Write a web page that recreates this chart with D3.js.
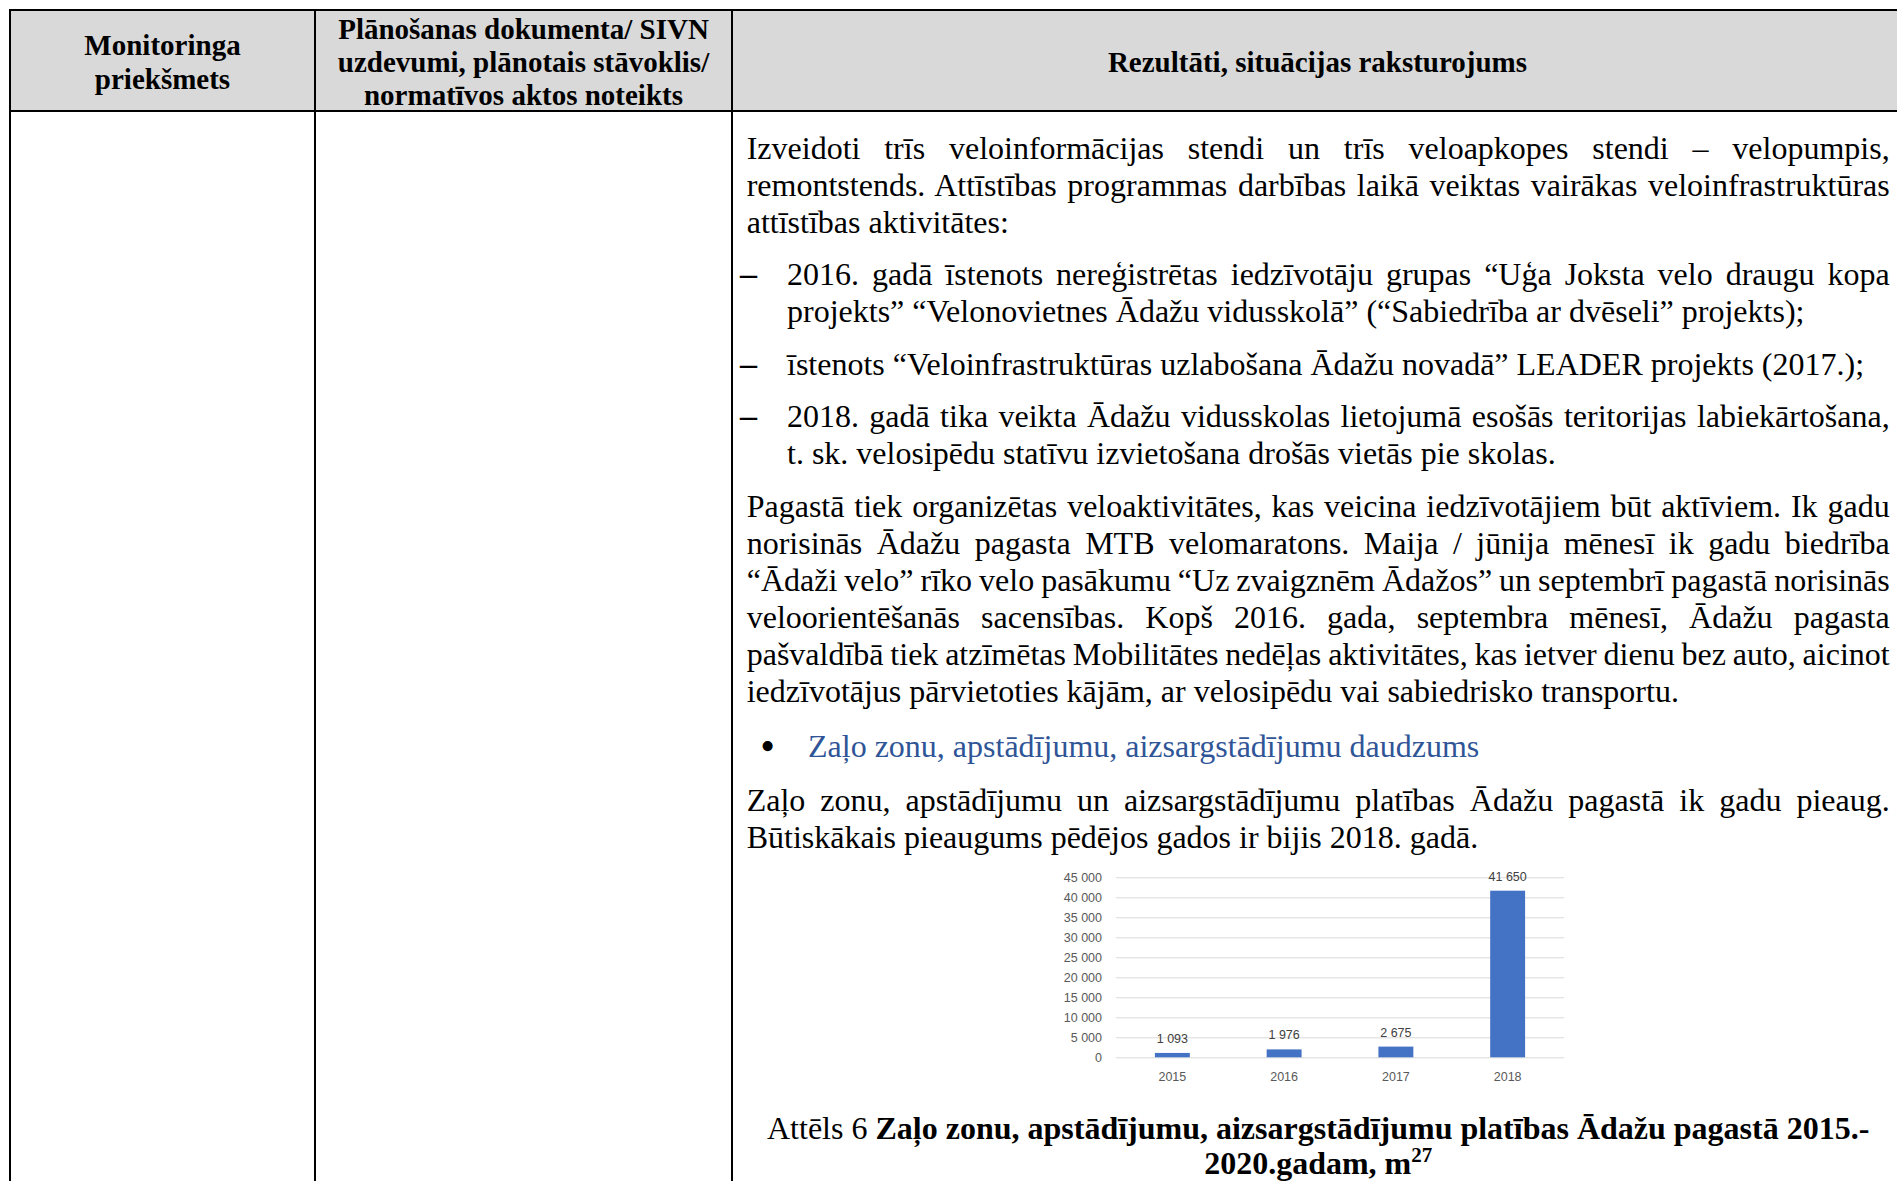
<!DOCTYPE html>
<html>
<head>
<meta charset="utf-8">
<script src="https://cdn.jsdelivr.net/npm/d3@7/dist/d3.min.js"></script>
<style>
  body { margin: 0; background: #fff; }
  svg { display: block; }
</style>
</head>
<body>
<div id="page"></div>
<script>
// chart data: green zone areas, m2
const years = ['2015', '2016', '2017', '2018'];
const areas = [1093, 1976, 2675, 41650];
const yTicks = [0, 5000, 10000, 15000, 20000, 25000, 30000, 35000, 40000, 45000];

// table header texts
const headCol1 = ['Monitoringa', 'priekšmets'];
const headCol2 = ['Plānošanas dokumenta/ SIVN', 'uzdevumi, plānotais stāvoklis/', 'normatīvos aktos noteikts'];
const headCol3 = ['Rezultāti, situācijas raksturojums'];

// body texts, one entry per printed line
const para1 = [
  'Izveidoti trīs veloinformācijas stendi un trīs veloapkopes stendi – velopumpis,',
  'remontstends. Attīstības programmas darbības laikā veiktas vairākas veloinfrastruktūras',
  'attīstības aktivitātes:'
];
const dash1 = [
  '2016. gadā īstenots nereģistrētas iedzīvotāju grupas “Uģa Joksta velo draugu kopa',
  'projekts” “Velonovietnes Ādažu vidusskolā” (“Sabiedrība ar dvēseli” projekts);'
];
const dash2 = ['īstenots “Veloinfrastruktūras uzlabošana Ādažu novadā” LEADER projekts (2017.);'];
const dash3 = [
  '2018. gadā tika veikta Ādažu vidusskolas lietojumā esošās teritorijas labiekārtošana,',
  't. sk. velosipēdu statīvu izvietošana drošās vietās pie skolas.'
];
const para2 = [
  'Pagastā tiek organizētas veloaktivitātes, kas veicina iedzīvotājiem būt aktīviem. Ik gadu',
  'norisinās Ādažu pagasta MTB velomaratons. Maija / jūnija mēnesī ik gadu biedrība',
  '“Ādaži velo” rīko velo pasākumu “Uz zvaigznēm Ādažos” un septembrī pagastā norisinās',
  'veloorientēšanās sacensības. Kopš 2016. gada, septembra mēnesī, Ādažu pagasta',
  'pašvaldībā tiek atzīmētas Mobilitātes nedēļas aktivitātes, kas ietver dienu bez auto, aicinot',
  'iedzīvotājus pārvietoties kājām, ar velosipēdu vai sabiedrisko transportu.'
];
const bullet1 = ['Zaļo zonu, apstādījumu, aizsargstādījumu daudzums'];
const para3 = [
  'Zaļo zonu, apstādījumu un aizsargstādījumu platības Ādažu pagastā ik gadu pieaug.',
  'Būtiskākais pieaugums pēdējos gados ir bijis 2018. gadā.'
];

const W = 1897, H = 1181;
const serif = '"Liberation Serif", "Times New Roman", serif';
const sans = '"Liberation Sans", Arial, sans-serif';

const colX = [10, 315, 732, 1903];
const tableTop = 10, headBottom = 111;

const svg = d3.select('#page')
  .append('svg')
  .attr('width', W)
  .attr('height', H);

// header background
svg.append('rect')
  .attr('x', colX[0]).attr('y', tableTop)
  .attr('width', colX[3] - colX[0]).attr('height', headBottom - tableTop)
  .attr('fill', '#d9d9d9');

// header texts
const headFs = 29, headLh = 33.4;
[headCol1, headCol2, headCol3].forEach((lines, i) => {
  const cx = (colX[i] + colX[i + 1]) / 2;
  const cy = (tableTop + headBottom) / 2 + 1.5;
  lines.forEach((t, j) => {
    const c = cy + (j - (lines.length - 1) / 2) * headLh;
    svg.append('text')
      .text(t)
      .attr('x', cx)
      .attr('y', c + 10)
      .attr('text-anchor', 'middle')
      .style('font-family', serif)
      .style('font-weight', 'bold')
      .style('font-size', headFs + 'px');
  });
});

// table borders
const border = svg.append('g').attr('stroke', '#000').attr('stroke-width', 2);
border.append('line').attr('x1', 9).attr('x2', W).attr('y1', tableTop).attr('y2', tableTop);
border.append('line').attr('x1', 9).attr('x2', W).attr('y1', headBottom).attr('y2', headBottom);
colX.slice(0, 3).forEach(x => {
  border.append('line').attr('x1', x).attr('x2', x).attr('y1', tableTop - 1).attr('y2', H);
});

// body text
const fs = 32, lh = 37;
const textLeft = 746.7, textRight = 1889.7;

function justify(node, width) {
  const txt = node.textContent;
  const n = (txt.match(/ /g) || []).length;
  if (!n) return;
  const w = node.getComputedTextLength();
  node.style.wordSpacing = ((width - w) / n) + 'px';
}

const blocks = [
  { kind: 'p', lines: para1, after: 15.5 },
  { kind: 'dash', lines: dash1, after: 15.5 },
  { kind: 'dash', lines: dash2, after: 15.5 },
  { kind: 'dash', lines: dash3, after: 15.5 },
  { kind: 'p', lines: para2, after: 18 },
  { kind: 'bullet', lines: bullet1, after: 17 },
  { kind: 'p', lines: para3, after: 0 }
];

let cy = 149.5;
blocks.forEach(b => {
  let x0 = textLeft;
  if (b.kind === 'dash') {
    x0 = 787;
    svg.append('text').text('–')
      .attr('x', 740).attr('y', cy + 9)
      .style('font-family', serif).style('font-weight', 'bold')
      .style('font-size', '34px');
  }
  if (b.kind === 'bullet') {
    x0 = 808;
    svg.append('text').text('•')
      .attr('x', 767.5).attr('y', cy + 12)
      .attr('text-anchor', 'middle')
      .style('font-family', serif).style('font-size', '42px');
  }
  b.lines.forEach((t, j) => {
    const el = svg.append('text')
      .text(t)
      .attr('x', x0)
      .attr('y', cy + 9)
      .attr('fill', b.kind === 'bullet' ? '#2f5597' : '#000')
      .style('font-family', serif)
      .style('font-size', fs + 'px');
    if (b.kind !== 'bullet' && j < b.lines.length - 1) justify(el.node(), textRight - x0);
    cy += lh;
  });
  cy += b.after;
});

// chart
const plotL = 1116, plotR = 1564, plotT = 877.3, plotB = 1057.3;

const x = d3.scaleBand()
  .domain(years)
  .range([plotL, plotR])
  .paddingInner(0.6875)
  .paddingOuter(0.348);

const y = d3.scaleLinear()
  .domain([0, 45000])
  .range([plotB, plotT]);

const fmt = v => d3.format(',')(v).replace(/,/g, ' ');

const chart = svg.append('g');

const yAxis = chart.append('g')
  .attr('transform', 'translate(' + plotL + ',0)')
  .call(d3.axisLeft(y).tickValues(yTicks).tickFormat(fmt).tickSize(-(plotR - plotL)).tickPadding(14));
yAxis.select('.domain').remove();
yAxis.selectAll('line').attr('stroke', '#d9d9d9').attr('stroke-width', 1);
yAxis.selectAll('text')
  .attr('fill', '#595959')
  .style('font-family', sans)
  .style('font-size', '12.5px');

const xAxis = chart.append('g')
  .attr('transform', 'translate(0,' + plotB + ')')
  .call(d3.axisBottom(x).tickSize(0).tickPadding(15));
xAxis.select('.domain').remove();
xAxis.selectAll('text')
  .attr('fill', '#595959')
  .style('font-family', sans)
  .style('font-size', '12.5px');

chart.selectAll('rect.bar')
  .data(areas)
  .join('rect')
  .attr('class', 'bar')
  .attr('x', (d, i) => x(years[i]))
  .attr('y', d => y(d))
  .attr('width', x.bandwidth())
  .attr('height', d => plotB - y(d))
  .attr('fill', '#4472c4');

chart.selectAll('text.val')
  .data(areas)
  .join('text')
  .attr('class', 'val')
  .text(d => fmt(d))
  .attr('x', (d, i) => x(years[i]) + x.bandwidth() / 2)
  .attr('y', d => y(d) - 10)
  .attr('text-anchor', 'middle')
  .attr('fill', '#404040')
  .style('font-family', sans)
  .style('font-size', '12.5px');

// caption
const capX = (textLeft + textRight) / 2;
const cap1 = svg.append('text')
  .attr('x', capX).attr('y', 1139)
  .attr('text-anchor', 'middle')
  .style('font-family', serif).style('font-size', fs + 'px');
cap1.append('tspan').text('Attēls 6 ');
cap1.append('tspan').style('font-weight', 'bold')
  .text('Zaļo zonu, apstādījumu, aizsargstādījumu platības Ādažu pagastā 2015.-');

const cap2 = svg.append('text')
  .attr('x', capX).attr('y', 1174)
  .attr('text-anchor', 'middle')
  .style('font-family', serif).style('font-size', fs + 'px')
  .style('font-weight', 'bold');
cap2.append('tspan').text('2020.gadam, m');
cap2.append('tspan').text('27').attr('dy', -12).style('font-size', '21px');
</script>
</body>
</html>
